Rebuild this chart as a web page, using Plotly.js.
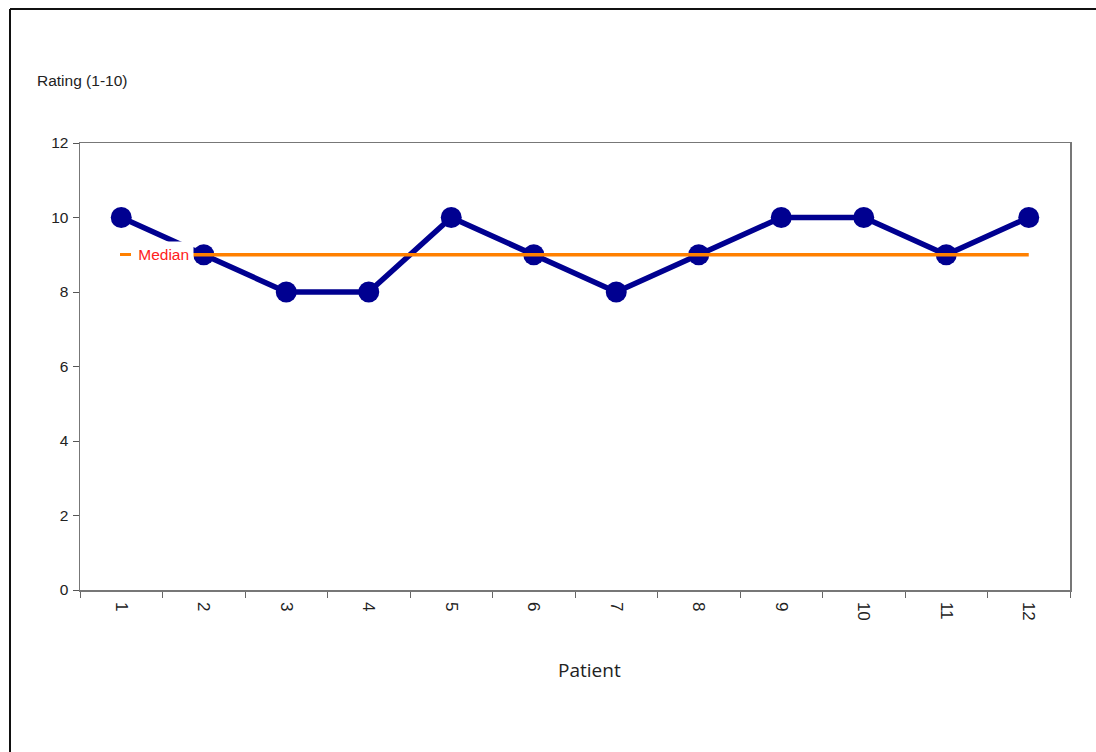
<!DOCTYPE html>
<html>
<head>
<meta charset="utf-8">
<script src="https://cdn.plot.ly/plotly-3.0.1.min.js"></script>
<style>
html,body{margin:0;padding:0;background:#fff;}
#chart{width:1096px;height:752px;}
</style>
</head>
<body>
<div id="chart"></div>
<script>
var patients = ['1','2','3','4','5','6','7','8','9','10','11','12'];
var ratings = [10,9,8,8,10,9,8,9,10,10,9,10];
var medianValues = [9,9,9,9,9,9,9,9,9,9,9,9];
var yTicks = [0,2,4,6,8,10,12];

var W = 1096, H = 752;
var L = 80, R = 26, T = 143, B = 162;
var pw = W - L - R, ph = H - T - B;
function px(x){ return (x - L) / pw; }
function py(y){ return (H - B - y) / ph; }

var traces = [
  {
    x: patients, y: ratings, type: 'scatter', mode: 'lines+markers',
    name: 'Rating', showlegend: false,
    line: {color: '#000090', width: 5.5},
    marker: {color: '#000090', size: 21}
  },
  {
    x: patients, y: medianValues, type: 'scatter', mode: 'lines',
    name: 'Median', showlegend: false,
    line: {color: '#FF8000', width: 3.5}
  }
];

var layout = {
  width: W, height: H,
  margin: {l: L, r: R, t: T, b: B, pad: 0},
  paper_bgcolor: '#fff', plot_bgcolor: '#fff',
  font: {family: 'Liberation Sans, Arial, sans-serif', color: '#222', size: 14},
  showlegend: false,
  xaxis: {
    type: 'category', tickson: 'boundaries', range: [-0.5, patients.length - 0.5],
    ticks: 'outside', ticklen: 6, tickcolor: '#666', tickwidth: 1,
    tickangle: 90, tickfont: {size: 17, color: '#222'}, ticklabelstandoff: 7,
    showline: true, linecolor: '#777', linewidth: 1.5, mirror: true,
    showgrid: false, zeroline: false, fixedrange: true
  },
  yaxis: {
    range: [0, 12], tickvals: yTicks, ticktext: yTicks.map(String),
    ticks: 'outside', ticklen: 6, tickcolor: '#555', tickwidth: 1,
    tickfont: {size: 15.5, color: '#222'}, ticklabelstandoff: 1,
    showline: true, linecolor: '#777', linewidth: 1.5, mirror: true,
    showgrid: false, zeroline: false, fixedrange: true
  },
  shapes: [
    {type: 'line', xref: 'paper', yref: 'paper', x0: px(10), x1: px(1100), y0: py(9), y1: py(9), line: {color: '#111', width: 2}},
    {type: 'line', xref: 'paper', yref: 'paper', x0: px(10), x1: px(10), y0: py(9), y1: py(760), line: {color: '#111', width: 2}}
  ],
  annotations: [
    {text: 'Rating (1-10)', xref: 'paper', yref: 'paper', x: px(35), y: py(80), xanchor: 'left', yanchor: 'middle', showarrow: false, font: {size: 15.5, color: '#222', family: 'Liberation Sans, Arial, sans-serif'}},
    {text: 'Patient', xref: 'paper', yref: 'paper', x: px(589), y: py(670), xanchor: 'center', yanchor: 'middle', showarrow: false, font: {size: 19, color: '#222', family: 'Open Sans, Noto Sans, sans-serif'}},
    {text: '&nbsp;&nbsp;&nbsp;&nbsp;Median', xref: 'paper', yref: 'y', x: px(116), y: medianValues[0], xanchor: 'left', yanchor: 'middle', showarrow: false, bgcolor: '#fff', borderpad: 4, font: {size: 15.5, color: '#FF2020', family: 'Liberation Sans, Arial, sans-serif'}},
    {text: ' ', xref: 'paper', yref: 'y', x: px(125.5), y: medianValues[0], xanchor: 'center', yanchor: 'middle', showarrow: false, bgcolor: '#FF8000', borderpad: 0, borderwidth: 0, width: 11, height: 3, font: {size: 2}}
  ]
};

Plotly.newPlot('chart', traces, layout, {displayModeBar: false, staticPlot: true});
</script>
</body>
</html>
